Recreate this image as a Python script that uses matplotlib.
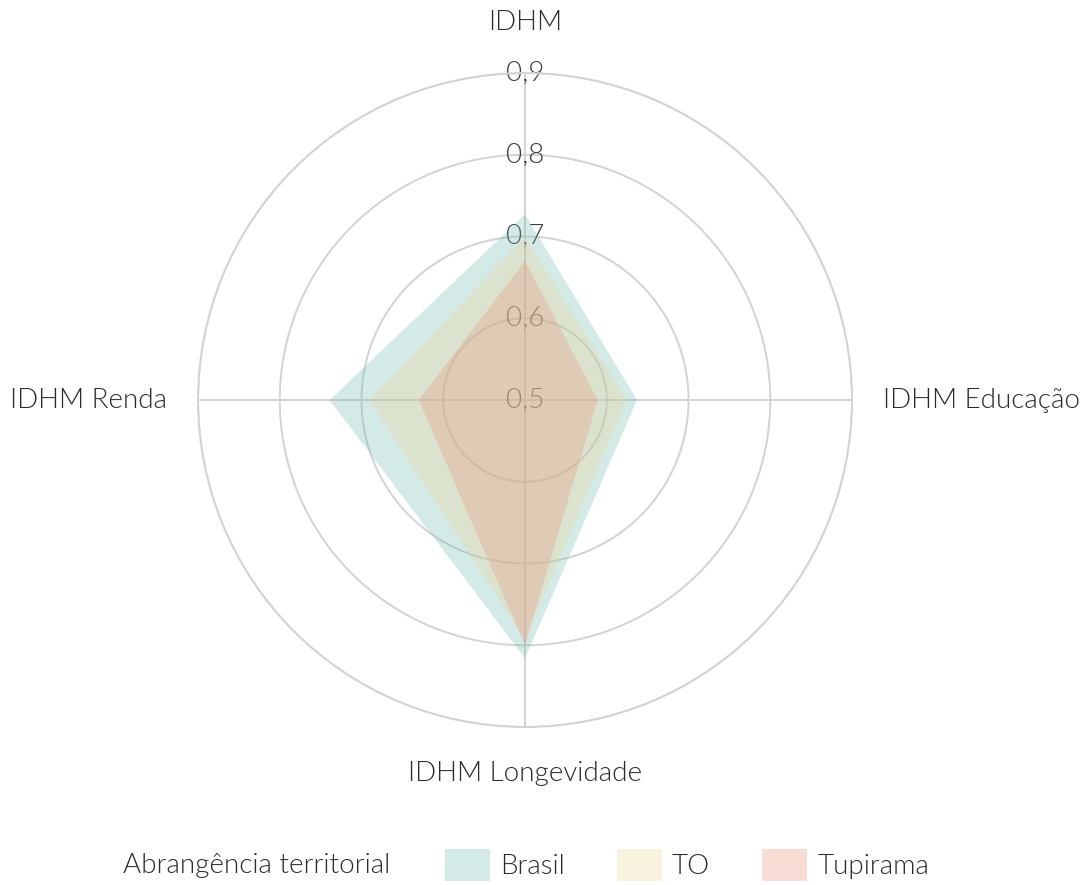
import numpy as np
import matplotlib
matplotlib.use("Agg")
import matplotlib.pyplot as plt
from matplotlib.patches import Patch

plt.rcParams['font.family'] = ['Lato', 'DejaVu Sans']
plt.rcParams['font.weight'] = 300

categories = ["IDHM", "IDHM Educação", "IDHM Longevidade", "IDHM Renda"]
series_names = ["Brasil", "TO", "Tupirama"]
brasil = [0.727, 0.637, 0.816, 0.739]
to_vals = [0.699, 0.624, 0.793, 0.690]
tupirama = [0.670, 0.589, 0.800, 0.630]
r_ticks = [0.5, 0.6, 0.7, 0.8, 0.9]
r_tick_labels = ["0,5", "0,6", "0,7", "0,8", "0,9"]
legend_title = "Abrangência territorial"

colors = ["#70bcaf", "#eed498", "#eb917d"]
alpha = 0.3
FS = 20
TXT = '#2b2b2b'

fig = plt.figure(figsize=(10.85, 8.85), dpi=100)
ax = fig.add_axes([0.1825, 0.1785, 0.6028, 0.739], projection='polar')
ax.set_theta_zero_location('N')
ax.set_theta_direction(-1)

n = len(categories)
angles = np.arange(n) * 2 * np.pi / n
angles_closed = np.concatenate([angles, angles[:1]])

for vals, c in zip([brasil, to_vals, tupirama], colors):
    v = np.concatenate([vals, vals[:1]])
    ax.fill(angles_closed, v, color=c, alpha=alpha, lw=0, zorder=2)

ax.set_ylim(r_ticks[0], r_ticks[-1])
ax.set_yticks(r_ticks)
ax.set_yticklabels([])
ax.set_xticks(angles)
ax.set_xticklabels([])
ax.grid(True, color='#d3d3d3', lw=1.4)
ax.spines['polar'].set_color('#d3d3d3')
ax.spines['polar'].set_linewidth(1.4)
ax.set_axisbelow(True)

for r, lab in zip(r_ticks, r_tick_labels):
    ax.text(0, r, lab, ha='center', va='center', fontsize=FS, color='#3a3a3a',
            fontweight=300, zorder=0.9)

label_pos = [(0.962, 'center', 'center'), (0.938, 'left', 'center'),
             (0.957, 'center', 'center'), (0.938, 'right', 'center')]
for ang, lab, (r, ha, va) in zip(angles, categories, label_pos):
    ax.text(ang, r, lab, ha=ha, va=va, fontsize=FS, color=TXT,
            fontweight=300, clip_on=False)

fig.text(123 / 1085, 1 - 865 / 885, legend_title, ha='left', va='center',
         fontsize=FS, color=TXT, fontweight=300)
handles = [Patch(facecolor=c, alpha=alpha, edgecolor='none') for c in colors]
leg = fig.legend(handles, series_names, loc='center left',
                 bbox_to_anchor=(445 / 1085, 1 - 865 / 885), ncol=3,
                 frameon=False, fontsize=FS, handlelength=1.62, handleheight=1.45,
                 handletextpad=0.36, columnspacing=1.88, borderpad=0, borderaxespad=0)
for t in leg.get_texts():
    t.set_color(TXT)

fig.savefig("out.png", dpi=100)
